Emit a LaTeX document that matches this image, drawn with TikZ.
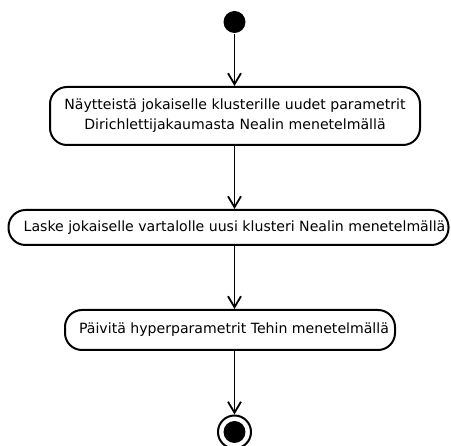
\documentclass[tikz,border=0pt]{standalone}
\usepackage{fontspec}
\setmainfont{DejaVu Sans}
\usetikzlibrary{arrows.meta}
\begin{document}
\begin{tikzpicture}[x=1pt,y=-1pt,
  line width=2pt,
  action/.style={draw, rounded corners=17pt, inner sep=0pt},
  label text/.style={align=center, inner sep=0pt, font=\fontsize{14.1}{20}\selectfont},
  flow/.style={-{Straight Barb[length=11pt,width=13pt,line width=1.8pt]}, line width=1.8pt},
  startdot/.style={circle, fill=black, minimum size=22pt, inner sep=0pt},
  enddot/.style={circle, draw, fill=white, minimum size=33pt, inner sep=0pt, line width=2pt}]
  \useasboundingbox (0,0) rectangle (451,446);
  \clip (0,0) rectangle (451,446);

  % initial node
  \node[startdot] (s) at (234.5,22) {};

  % action boxes and their captions
  \node[action, minimum width=370pt, minimum height=58pt] (a1) at (235,116) {};
  \node[label text] (t1) at (235,116)
    {Näytteistä jokaiselle klusterille uudet parametrit\\Dirichlettijakaumasta Nealin menetelmällä};
  \node[action, minimum width=440pt, minimum height=35pt] (a2) at (228.5,227.5) {};
  \node[label text] (t2) at (234.5,227.5)
    {Laske jokaiselle vartalolle uusi klusteri Nealin menetelmällä};
  \node[action, minimum width=330pt, minimum height=40pt] (a3) at (230,330) {};
  \node[label text] (t3) at (234,330)
    {Päivitä hyperparametrit Tehin menetelmällä};

  % final node
  \node[enddot] (e) at (234.5,432) {};
  \fill (e.center) circle (11pt);

  % control flow
  \draw[flow] (s) -- (a1.north -| s);
  \draw[flow] (a1.south -| s) -- (a2.north -| s);
  \draw[flow] (a2.south -| s) -- (a3.north -| s);
  \draw[flow] (a3.south -| s) -- (e);
\end{tikzpicture}
\end{document}
